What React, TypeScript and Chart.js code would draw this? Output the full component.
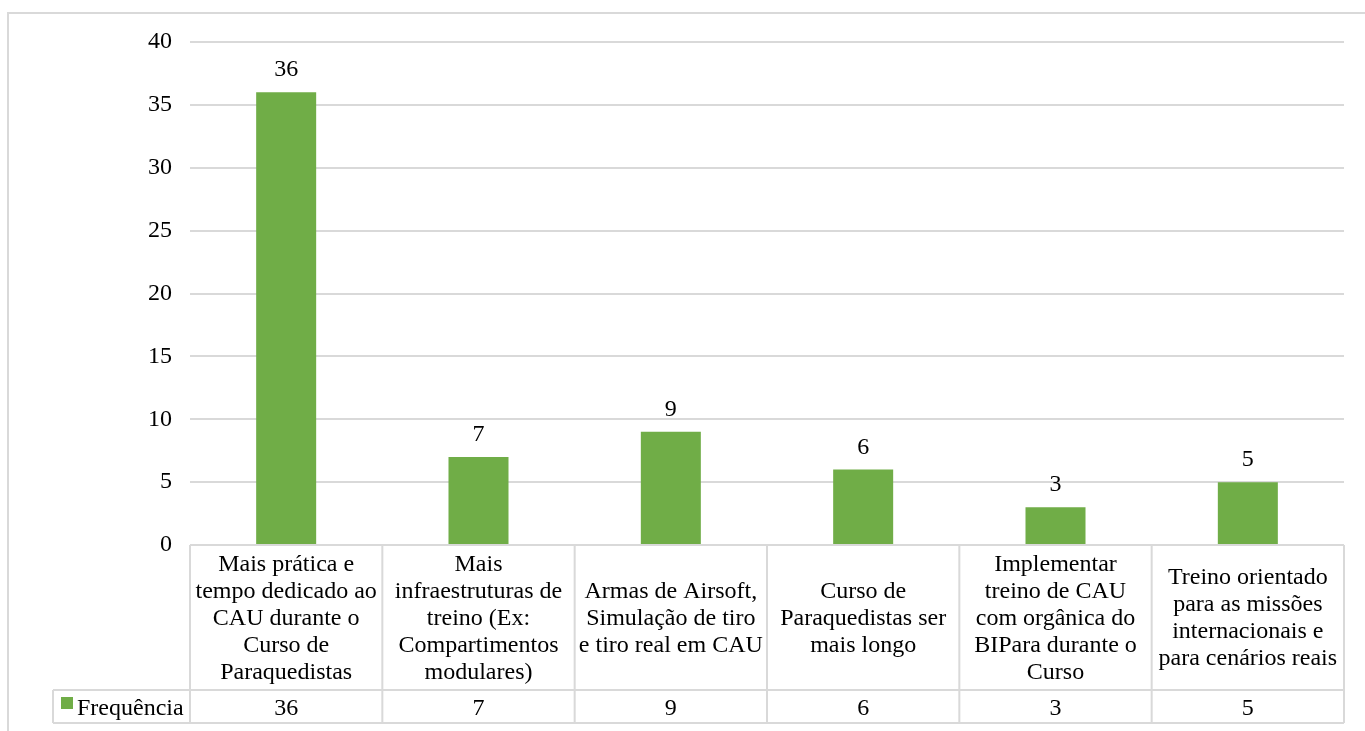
import React, { useEffect, useRef } from "react";
import { Chart, registerables } from "chart.js";

Chart.register(...registerables);

const categoryLines: string[][] = [
  ["Mais prática e", "tempo dedicado ao", "CAU durante o", "Curso de", "Paraquedistas"],
  ["Mais", "infraestruturas de", "treino (Ex:", "Compartimentos", "modulares)"],
  ["Armas de Airsoft,", "Simulação de tiro", "e tiro real em CAU"],
  ["Curso de", "Paraquedistas ser", "mais longo"],
  ["Implementar", "treino de CAU", "com orgânica do", "BIPara durante o", "Curso"],
  ["Treino orientado", "para as missões", "internacionais e", "para cenários reais"],
];
const categories: string[] = categoryLines.map((l) => l.join(" "));
const seriesName = "Frequência";
const frequencia: number[] = [36, 7, 9, 6, 3, 5];
const yTicks: number[] = [0, 5, 10, 15, 20, 25, 30, 35, 40];

const FONT = '"Liberation Serif", "Times New Roman", serif';
const GREEN = "#70ad47";
const LINE = "#d9d9d9";

const tablePlugin = {
  id: "tablePlugin",
  afterDraw(chart: any) {
    const ctx = chart.ctx as CanvasRenderingContext2D;
    const area = chart.chartArea;
    const xs = chart.scales.x;
    const n = categories.length;
    const colW = (area.right - area.left) / n;
    const headTop = area.bottom;
    const headBottom = headTop + 145;
    const rowBottom = headBottom + 33;
    const legendLeft = 53;
    ctx.save();
    // outer border
    ctx.strokeStyle = LINE;
    ctx.lineWidth = 2;
    ctx.beginPath();
    ctx.moveTo(8, chart.height + 10);
    ctx.lineTo(8, 13);
    ctx.lineTo(chart.width + 10, 13);
    ctx.stroke();

    // data labels
    const meta = chart.getDatasetMeta(0);
    ctx.fillStyle = "#000";
    ctx.font = `24px ${FONT}`;
    ctx.textAlign = "center";
    ctx.textBaseline = "alphabetic";
    meta.data.forEach((bar: any, i: number) => {
      ctx.fillText(String(frequencia[i]), bar.x, bar.y - 16);
    });

    // table lines
    ctx.strokeStyle = LINE;
    ctx.lineWidth = 2;
    ctx.beginPath();
    ctx.moveTo(area.left, headTop);
    ctx.lineTo(area.right, headTop);
    ctx.moveTo(legendLeft, headBottom);
    ctx.lineTo(area.right, headBottom);
    ctx.moveTo(legendLeft, rowBottom);
    ctx.lineTo(area.right, rowBottom);
    ctx.moveTo(legendLeft, headBottom);
    ctx.lineTo(legendLeft, rowBottom);
    for (let i = 0; i <= n; i++) {
      const x = area.left + i * colW;
      ctx.moveTo(x, headTop);
      ctx.lineTo(x, rowBottom);
    }
    ctx.stroke();

    // header texts
    ctx.fillStyle = "#000";
    const lh = 27;
    const cy = (headTop + headBottom) / 2 + 7;
    categoryLines.forEach((lines, i) => {
      const x = xs.getPixelForValue(i);
      lines.forEach((t, j) => {
        const y = cy + (j - (lines.length - 1) / 2) * lh;
        ctx.fillText(t, x, y);
      });
    });
    // values row
    const vy = (headBottom + rowBottom) / 2 + 8;
    frequencia.forEach((v, i) => {
      ctx.fillText(String(v), xs.getPixelForValue(i), vy);
    });
    // legend
    ctx.fillStyle = GREEN;
    ctx.fillRect(61, headBottom + 7, 12, 12);
    ctx.fillStyle = "#000";
    ctx.textAlign = "left";
    ctx.fillText(seriesName, 77, vy);
    ctx.restore();
  },
};

export default function App() {
  const ref = useRef<HTMLCanvasElement | null>(null);
  useEffect(() => {
    if (!ref.current) return;
    const chart = new Chart(ref.current, {
      type: "bar",
      data: {
        labels: categories,
        datasets: [
          {
            label: seriesName,
            data: frequencia,
            backgroundColor: GREEN,
            barPercentage: 0.312,
            categoryPercentage: 1,
          },
        ],
      },
      options: {
        responsive: false,
        animation: false,
        layout: { padding: { left: 0, right: 21, top: 42, bottom: 186 } },
        plugins: {
          legend: { display: false },
          tooltip: { enabled: false },
        },
        scales: {
          x: { display: false },
          y: {
            min: yTicks[0],
            max: yTicks[yTicks.length - 1],
            afterFit: (scale: any) => {
              scale.width = 190;
            },
            afterBuildTicks: (scale: any) => {
              scale.ticks = yTicks.map((v) => ({ value: v }));
            },
            border: { display: false },
            grid: { color: LINE, lineWidth: 2, drawTicks: false },
            ticks: {
              padding: 18,
              color: "#000",
              font: { family: FONT, size: 24 },
            },
          },
        },
      },
      plugins: [tablePlugin],
    });
    return () => chart.destroy();
  }, []);
  return (
    <canvas
      ref={ref}
      width={1365}
      height={731}
      style={{ position: "fixed", left: 0, top: 0, display: "block", background: "#fff" }}
    />
  );
}
